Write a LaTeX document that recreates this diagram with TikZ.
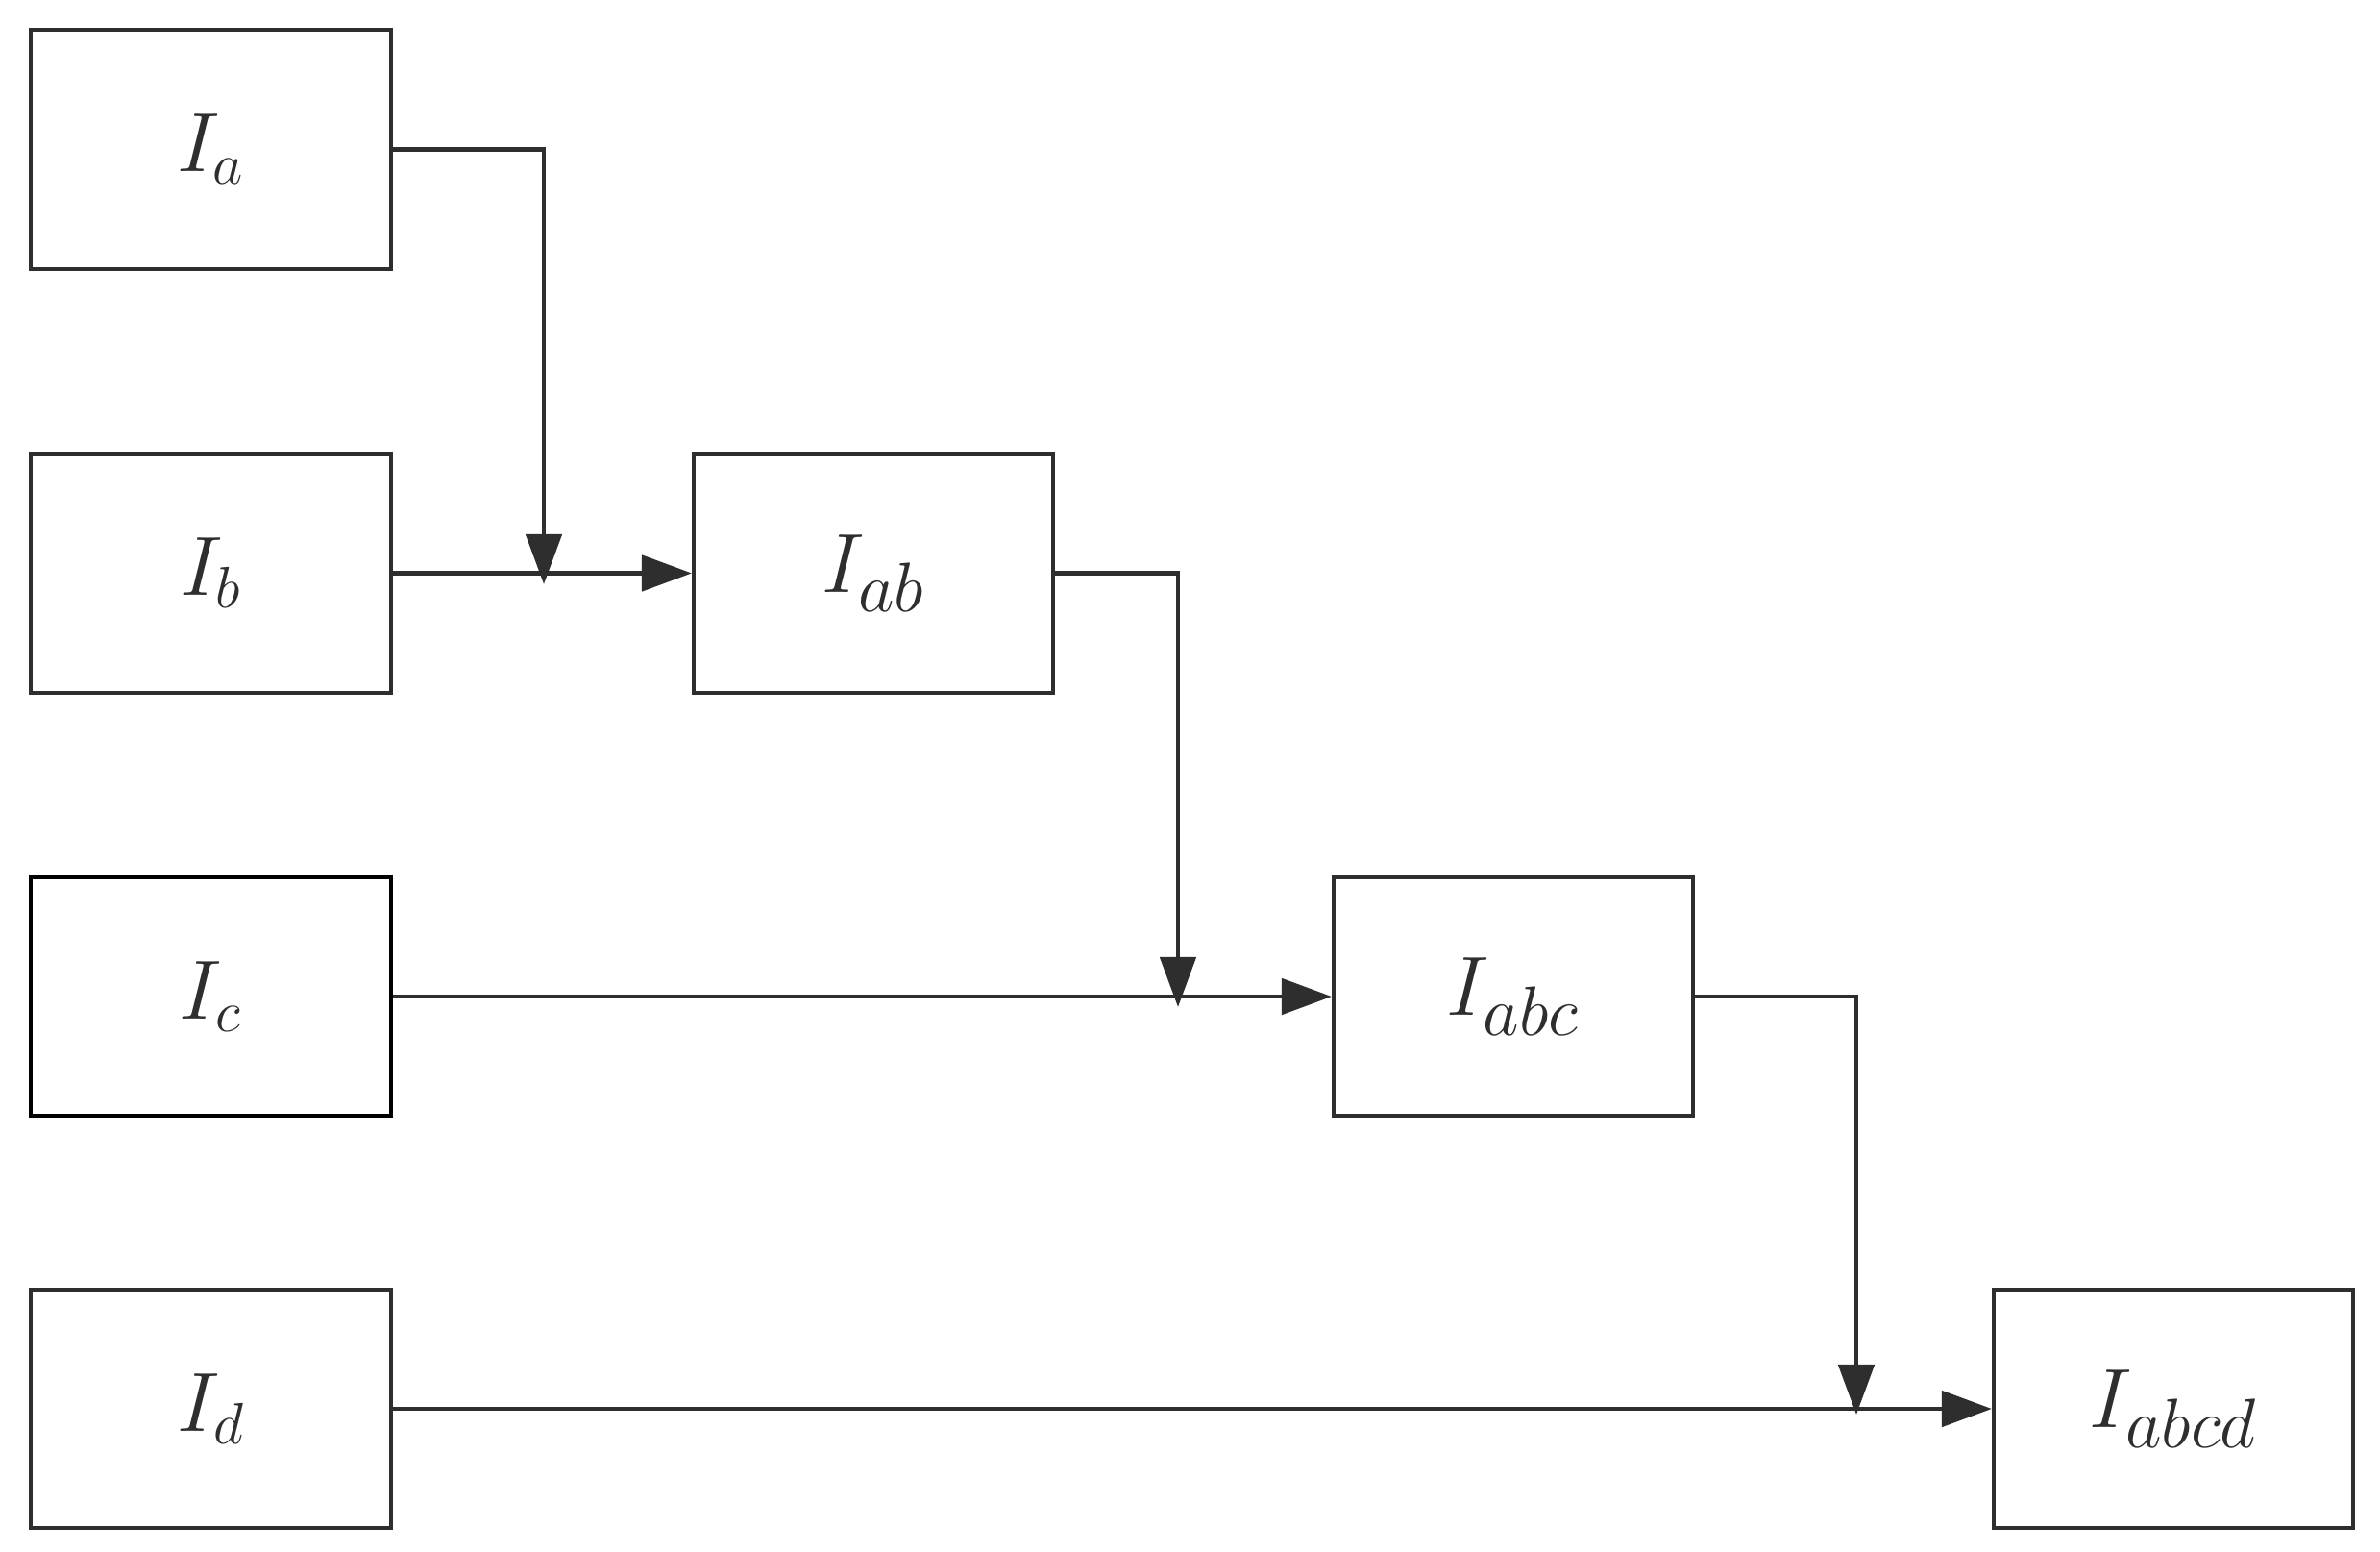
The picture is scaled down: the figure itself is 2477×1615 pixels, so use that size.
\documentclass[tikz,border=0pt]{standalone}
\usetikzlibrary{arrows.meta}
\definecolor{ink}{HTML}{2E2E2E}
\begin{document}
\begin{tikzpicture}[x=0.01cm,y=-0.01cm,
  box/.style={draw=ink,line width=1.1pt,minimum width=3.74cm,minimum height=2.48cm,inner sep=0pt,text=ink},
  small/.style={font=\fontsize{25}{30}\selectfont},
  big/.style={font=\fontsize{31}{36}\selectfont},
  arr/.style={draw=ink,line width=1.35pt,-{Triangle[length=0.52cm,width=0.37cm]}}]
\useasboundingbox (0,0) rectangle (2477,1615);
\node[box,small] (a) at (219.5,155.5) {$I_a$};
\node[box,small] (b) at (219.5,596.5) {$I_b$};
\node[box,small,draw=black] (c) at (219.5,1037) {$I_c$};
\node[box,small] (d) at (219.5,1466) {$I_d$};
\node[box,big] (ab) at (909,596.5) {$I_{ab}$};
\node[box,big] (abc) at (1575,1037) {$I_{abc}$};
\node[box,big] (abcd) at (2262,1466) {$I_{abcd}$};
\coordinate (m1) at (566,608);
\coordinate (m2) at (1226,1048);
\coordinate (m3) at (1932,1472);
\draw[arr] (b.east) -- (ab.west);
\draw[arr] (c.east) -- (abc.west);
\draw[arr] (d.east) -- (abcd.west);
\draw[arr] (a.east) -| (m1);
\draw[arr] (ab.east) -| (m2);
\draw[arr] (abc.east) -| (m3);
\end{tikzpicture}
\end{document}
